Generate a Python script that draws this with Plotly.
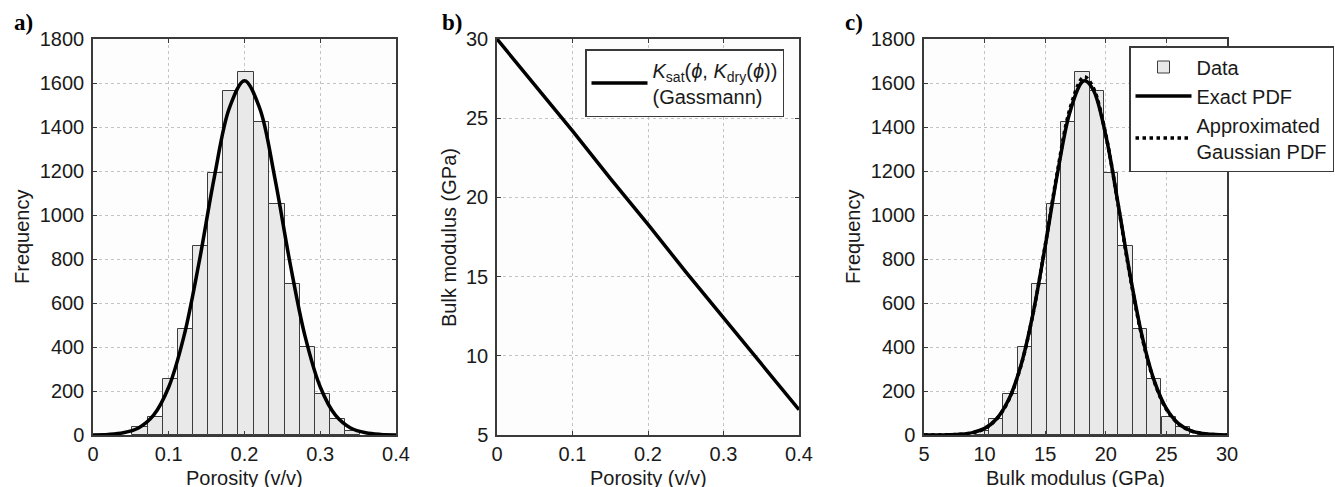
import plotly.graph_objects as go

W, H = 1335, 487

# ---------------- data ----------------
# panel a: porosity histogram (bin centres, counts) and fitted PDF
phi_bin_centers = [0.062, 0.082, 0.102, 0.122, 0.142, 0.162, 0.182, 0.202, 0.222,
                   0.243, 0.263, 0.283, 0.303, 0.323, 0.343]
phi_bin_width = 0.0201
phi_counts = [37, 82, 255, 482, 857, 1190, 1562, 1651, 1422, 1052, 687, 402, 185, 74, 17]

phi_pdf_x = [0.0, 0.02, 0.04, 0.06, 0.08, 0.10, 0.12, 0.14, 0.16, 0.18, 0.20,
             0.22, 0.24, 0.26, 0.28, 0.30, 0.32, 0.34, 0.36, 0.38, 0.40]
phi_pdf_y = [0.5, 2.5, 10, 32, 90, 218, 448, 784, 1169, 1486, 1610,
             1486, 1169, 784, 448, 218, 90, 32, 10, 2.5, 0.5]

# panel b: Gassmann saturated bulk modulus vs porosity
phi_line = [0.0, 0.05, 0.10, 0.15, 0.20, 0.25, 0.30, 0.35, 0.40]
k_sat_line = [30.0, 27.1, 24.2, 21.2, 18.3, 15.3, 12.4, 9.5, 6.6]

# panel c: bulk modulus histogram and PDFs
k_bin_centers = [9.78, 10.97, 12.15, 13.34, 14.52, 15.71, 16.89, 18.08, 19.26,
                 20.45, 21.63, 22.82, 24.00, 25.19, 26.37]
k_bin_width = 1.185
k_counts = [17, 74, 185, 402, 687, 1052, 1422, 1651, 1562, 1190, 857, 482, 255, 82, 37]

k_pdf_x = [5, 6, 7, 8, 9, 10, 11, 12, 13, 14, 15, 16, 17, 18, 18.3,
           19, 20, 21, 22, 23, 24, 25, 26, 27, 28, 29, 30]
k_exact_pdf = [0, 0, 1, 3.5, 11, 30, 74, 162, 317, 553, 858, 1185, 1460, 1602, 1610,
               1565, 1362, 1056, 729, 448, 246, 120, 52, 20, 7, 2, 0]
k_gauss_pdf = [0, 0, 1, 3, 10, 29, 73, 160, 315, 552, 862, 1195, 1475, 1620, 1628,
               1575, 1365, 1052, 722, 442, 242, 117, 50, 19, 6, 2, 0]

# ---------------- styling ----------------
FONT = "Liberation Sans, Arial, sans-serif"
BAR_FILL = "#e9e9e9"
BAR_LINE = "#3c3c3c"
FRAME = "#3a3a3a"
GRID = "#c4c4c4"
TXT = "#1a1a1a"

fig = go.Figure()

fig.add_trace(go.Bar(x=phi_bin_centers, y=phi_counts, width=phi_bin_width,
                     marker=dict(color=BAR_FILL, line=dict(color=BAR_LINE, width=1)),
                     xaxis="x", yaxis="y", showlegend=False))
fig.add_trace(go.Scatter(x=phi_pdf_x, y=phi_pdf_y, mode="lines",
                         line=dict(color="black", width=3.5, shape="spline"),
                         xaxis="x", yaxis="y", showlegend=False))

fig.add_trace(go.Scatter(x=phi_line, y=k_sat_line, mode="lines",
                         line=dict(color="black", width=3.5),
                         name="<i>K</i><sub>sat</sub>(<i>ϕ</i>, <i>K</i><sub>dry</sub>(<i>ϕ</i>))<br>(Gassmann)",
                         xaxis="x2", yaxis="y2", legend="legend2"))

fig.add_trace(go.Bar(x=k_bin_centers, y=k_counts, width=k_bin_width, name="Data",
                     marker=dict(color=BAR_FILL, line=dict(color=BAR_LINE, width=1)),
                     xaxis="x3", yaxis="y3", legend="legend"))
fig.add_trace(go.Scatter(x=k_pdf_x, y=k_exact_pdf, mode="lines", name="Exact PDF",
                         line=dict(color="black", width=3.5, shape="spline"),
                         xaxis="x3", yaxis="y3", legend="legend"))
fig.add_trace(go.Scatter(x=k_pdf_x, y=k_gauss_pdf, mode="lines",
                         name="Approximated<br>Gaussian PDF",
                         line=dict(color="black", width=3.5, dash="dot", shape="spline"),
                         xaxis="x3", yaxis="y3", legend="legend"))


def px_x(p):
    return p / W


def px_y(p):
    return 1 - p / H


def axis_common():
    return dict(showline=True, mirror="ticks", linecolor=FRAME, linewidth=1.5,
                ticks="inside", ticklen=4, tickcolor=FRAME, tickwidth=1,
                showgrid=True, gridcolor=GRID, griddash="dot", gridwidth=1,
                zeroline=False, tickfont=dict(family=FONT, size=20, color=TXT))


ydom = [px_y(435), px_y(39)]

layout = dict(
    width=W, height=H, margin=dict(l=0, r=0, t=0, b=0, pad=0, autoexpand=False),
    paper_bgcolor="white", plot_bgcolor="#fdfdfd",
    barmode="overlay", bargap=0,
    font=dict(family=FONT, size=20, color=TXT),
    xaxis=dict(domain=[px_x(93), px_x(396)], range=[0, 0.4], dtick=0.1, anchor="y",
               ticklabelstandoff=0, **axis_common()),
    yaxis=dict(domain=ydom, range=[0, 1800], dtick=200, anchor="x",
               ticklabelstandoff=3, **axis_common()),
    xaxis2=dict(domain=[px_x(497), px_x(799)], range=[0, 0.4], dtick=0.1, anchor="y2",
                ticklabelstandoff=0, **axis_common()),
    yaxis2=dict(domain=ydom, range=[5, 30], dtick=5, anchor="x2",
                ticklabelstandoff=3, **axis_common()),
    xaxis3=dict(domain=[px_x(924), px_x(1227)], range=[5, 30], dtick=5, anchor="y3",
                ticklabelstandoff=0, **axis_common()),
    yaxis3=dict(domain=ydom, range=[0, 1800], dtick=200, anchor="x3",
                ticklabelstandoff=3, **axis_common()),
    legend=dict(x=px_x(1129), y=px_y(46), xanchor="left", yanchor="top",
                bgcolor="white", bordercolor=FRAME, borderwidth=1.5,
                font=dict(family=FONT, size=20, color=TXT),
                itemwidth=56, tracegroupgap=0, valign="middle"),
    legend2=dict(x=px_x(585), y=px_y(49), xanchor="left", yanchor="top",
                 bgcolor="white", bordercolor=FRAME, borderwidth=1.5,
                 font=dict(family=FONT, size=20, color=TXT),
                 itemwidth=56, valign="middle"),
)
fig.update_layout(**layout)

annots = []
# panel labels
for txt, x, y in [("a)", 12, 22), ("b)", 440, 22), ("c)", 843, 22)]:
    annots.append(dict(text="<b>" + txt + "</b>", x=px_x(x), y=px_y(y), xref="paper", yref="paper",
                       xanchor="left", yanchor="middle", showarrow=False,
                       font=dict(family="Liberation Serif, Times New Roman, serif", size=23, color="black")))
# axis titles
for txt, x, y in [("Frequency", 22, 237), ("Bulk modulus (GPa)", 449, 237),
                  ("Frequency", 853, 237)]:
    annots.append(dict(text=txt, x=px_x(x), y=px_y(y), xref="paper", yref="paper",
                       xanchor="center", yanchor="middle", textangle=-90, showarrow=False,
                       font=dict(family=FONT, size=20, color=TXT)))
for txt, x in [("Porosity (v/v)", 244), ("Porosity (v/v)", 648), ("Bulk modulus (GPa)", 1075)]:
    annots.append(dict(text=txt, x=px_x(x), y=px_y(478), xref="paper", yref="paper",
                       xanchor="center", yanchor="middle", showarrow=False,
                       font=dict(family=FONT, size=20, color=TXT)))
fig.update_layout(annotations=annots)

fig.write_html("out.html")
